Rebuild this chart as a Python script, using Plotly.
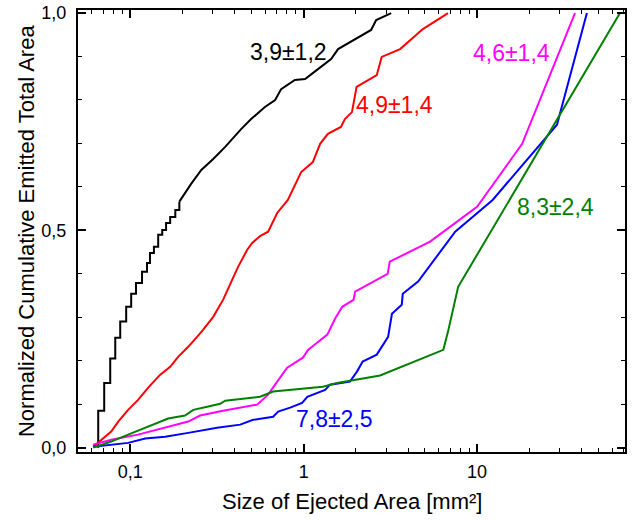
import plotly.graph_objects as go
import math

# ---- data ----
black_step_x = [0.0654, 0.0654, 0.0708, 0.0767, 0.082, 0.0876, 0.0948, 0.1013, 0.108, 0.117,
                0.125, 0.130, 0.137, 0.145, 0.153, 0.161, 0.170, 0.182, 0.192]
black_step_y = [0.0, 0.085, 0.149, 0.205, 0.253, 0.290, 0.324, 0.354, 0.379, 0.405,
                0.425, 0.448, 0.462, 0.490, 0.501, 0.517, 0.531, 0.547, 0.566]
black_tail_x = [0.192, 0.2245, 0.257, 0.301, 0.353, 0.436, 0.498, 0.598, 0.685, 0.742, 0.89,
                1.02, 1.21, 1.44, 1.58, 2.15, 2.45, 2.62, 3.2]
black_tail_y = [0.566, 0.607, 0.639, 0.664, 0.692, 0.733, 0.756, 0.784, 0.800, 0.825, 0.846,
                0.848, 0.871, 0.894, 0.917, 0.949, 0.961, 0.984, 1.0]

red_x = [0.0612, 0.0718, 0.0777, 0.0853, 0.0973, 0.111, 0.127, 0.149, 0.170, 0.189, 0.216,
         0.243, 0.263, 0.301, 0.343, 0.387, 0.419, 0.472, 0.505, 0.561, 0.624, 0.704, 0.811,
         0.968, 1.13, 1.245, 1.38, 1.64, 1.73, 1.90, 2.02, 2.64, 2.82, 3.60, 4.87, 6.8]
red_y = [0.002, 0.025, 0.037, 0.060, 0.087, 0.110, 0.138, 0.168, 0.186, 0.209, 0.232,
         0.255, 0.271, 0.301, 0.340, 0.386, 0.416, 0.455, 0.471, 0.487, 0.497, 0.540, 0.570,
         0.634, 0.657, 0.699, 0.722, 0.738, 0.756, 0.772, 0.830, 0.857, 0.899, 0.917, 0.963, 1.0]

magenta_x = [0.0612, 0.0777, 0.111, 0.159, 0.216, 0.253, 0.343, 0.539, 0.624, 0.704, 0.804,
             0.99, 1.06, 1.19, 1.37, 1.52, 1.67, 1.94, 1.98, 3.05, 3.14, 5.36, 10.0, 18.2, 36.7]
magenta_y = [0.007, 0.018, 0.030, 0.046, 0.060, 0.074, 0.085, 0.099, 0.122, 0.152, 0.184,
             0.207, 0.225, 0.241, 0.260, 0.297, 0.324, 0.340, 0.359, 0.400, 0.428, 0.474, 0.554,
             0.699, 1.0]

blue_x = [0.0612, 0.0777, 0.0973, 0.122, 0.159, 0.216, 0.317, 0.431, 0.511, 0.667, 0.713,
          0.836, 0.98, 1.05, 1.33, 1.42, 1.85, 2.03, 2.19, 2.64, 2.88, 3.07, 3.23, 3.68, 3.73,
          4.57, 7.48, 12.3, 28.9, 43.0]
blue_y = [0.002, 0.007, 0.011, 0.021, 0.025, 0.034, 0.046, 0.053, 0.064, 0.071, 0.083,
          0.092, 0.103, 0.117, 0.133, 0.145, 0.152, 0.175, 0.198, 0.214, 0.237, 0.255, 0.308,
          0.329, 0.354, 0.382, 0.497, 0.570, 0.743, 1.0]

green_x = [0.0612, 0.0777, 0.0973, 0.122, 0.145, 0.1656, 0.207, 0.231, 0.278, 0.330, 0.353,
           0.561, 0.667, 1.29, 1.56, 2.76, 6.39, 6.8, 7.78, 66.7]
green_y = [0.0, 0.014, 0.030, 0.046, 0.057, 0.067, 0.074, 0.087, 0.094, 0.101, 0.108,
           0.117, 0.129, 0.140, 0.149, 0.166, 0.225, 0.267, 0.370, 1.0]

labels = ["3,9±1,2", "4,9±1,4", "4,6±1,4", "8,3±2,4", "7,8±2,5"]
label_x = [0.815, 3.33, 15.7, 28.5, 1.50]
label_y = [0.910, 0.789, 0.908, 0.554, 0.067]

x_tick_vals = [0.1, 1, 10]
x_tick_text = ["0,1", "1", "10"]
y_tick_vals = [0.0, 0.5, 1.0]
y_tick_text = ["0,0", "0,5", "1,0"]

x_title = "Size of Ejected Area [mm²]"
y_title = "Normalized Cumulative Emitted Total Area"

BLACK, RED, MAGENTA, BLUE, GREEN = "#000000", "#FF0000", "#FF00FF", "#0000FF", "#008000"
FONT = "Liberation Sans, Arial, sans-serif"

fig = go.Figure()
lw = 2
fig.add_trace(go.Scatter(x=black_step_x, y=black_step_y, mode="lines", line=dict(color=BLACK, width=lw, shape="hv")))
fig.add_trace(go.Scatter(x=black_tail_x, y=black_tail_y, mode="lines", line=dict(color=BLACK, width=lw)))
fig.add_trace(go.Scatter(x=red_x, y=red_y, mode="lines", line=dict(color=RED, width=lw)))
fig.add_trace(go.Scatter(x=magenta_x, y=magenta_y, mode="lines", line=dict(color=MAGENTA, width=lw)))
fig.add_trace(go.Scatter(x=blue_x, y=blue_y, mode="lines", line=dict(color=BLUE, width=lw)))
fig.add_trace(go.Scatter(x=green_x, y=green_y, mode="lines", line=dict(color=GREEN, width=lw)))

label_colors = [BLACK, RED, MAGENTA, GREEN, BLUE]
for t, lx, ly, c in zip(labels, label_x, label_y, label_colors):
    fig.add_annotation(x=math.log10(lx), y=ly, xref="x", yref="y", text=t, showarrow=False,
                       font=dict(family=FONT, size=23, color=c))

# axis titles
fig.add_annotation(x=0.5, y=-0.113, xref="paper", yref="paper", text=x_title, showarrow=False,
                   xanchor="center", yanchor="middle", font=dict(family=FONT, size=22, color="black"))
fig.add_annotation(x=-0.095, y=0.5, xref="paper", yref="paper", text=y_title, showarrow=False,
                   textangle=-90, xanchor="center", yanchor="middle",
                   font=dict(family=FONT, size=22, color="black"))

minor_x = [k * 10 ** d for d in (-2, -1, 0, 1) for k in range(2, 10)]

fig.update_xaxes(type="log", range=[math.log10(0.05), math.log10(71.3)],
                 tickvals=x_tick_vals, ticktext=x_tick_text,
                 ticks="inside", ticklen=8, tickwidth=1.5, tickcolor="black",
                 minor=dict(ticks="inside", ticklen=4, tickwidth=1.2, tickcolor="black", tickvals=minor_x),
                 showline=True, linecolor="black", linewidth=2, mirror="ticks",
                 showgrid=False, zeroline=False, automargin=False, ticklabelstandoff=2,
                 tickfont=dict(family=FONT, size=18, color="black"))
fig.update_yaxes(range=[-0.01, 1.007],
                 tickvals=y_tick_vals, ticktext=y_tick_text,
                 ticks="inside", ticklen=8, tickwidth=1.5, tickcolor="black",
                 minor=dict(ticks="inside", ticklen=4, tickwidth=1.2, tickcolor="black", dtick=0.1, tick0=0),
                 showline=True, linecolor="black", linewidth=2, mirror="ticks",
                 showgrid=False, zeroline=False, automargin=False, ticklabelstandoff=6,
                 tickfont=dict(family=FONT, size=18, color="black"))

fig.update_layout(width=638, height=520, margin=dict(l=78, r=13, t=10, b=68),
                  plot_bgcolor="white", paper_bgcolor="white", showlegend=False)

fig.write_html("out.html", config={"displayModeBar": False},
               post_script="document.body.style.margin='0';")
